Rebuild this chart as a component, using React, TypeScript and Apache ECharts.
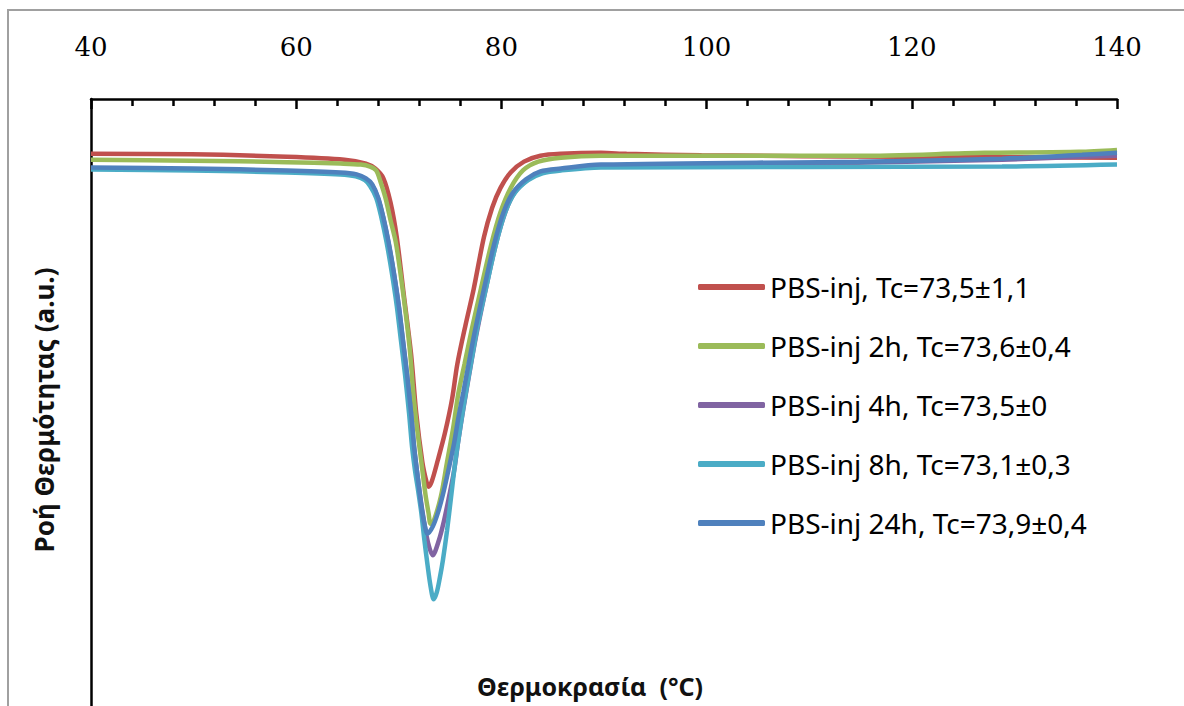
import React, { useEffect, useRef } from "react";
import * as echarts from "echarts";

// Temperature (°C) and heat-flow (a.u.) readings for each sample
const pbsInj: number[][] = [
  [40, -5.6], [49.8, -5.65], [59.1, -5.9], [64.7, -6.2], [66.8, -6.6], [67.7, -7.1], [68.5, -8.1],
  [69.2, -10.6], [69.8, -14.1], [70.5, -20.1], [71.2, -26.1], [71.7, -32.1], [72.3, -37.1],
  [72.7, -39.1], [72.9, -39.6], [73.2, -39.1], [73.8, -36.9], [74.5, -34.1], [75.2, -30.6],
  [75.7, -27.1], [76.5, -23.1], [77.3, -19.4], [78.3, -14.1], [79.1, -11.1], [79.9, -9.1],
  [80.9, -7.5], [82.2, -6.4], [83.8, -5.8], [85.8, -5.6], [89.7, -5.5], [92.2, -5.6],
  [99.5, -5.75], [119.0, -5.9], [140, -6.0],
];
const pbsInj2h: number[][] = [
  [40, -6.2], [49.8, -6.3], [59.1, -6.45], [64.3, -6.6], [66.3, -6.7], [67.2, -6.9], [67.8, -7.3],
  [68.2, -8.4], [68.7, -10.1], [69.2, -12.4], [69.7, -14.6], [70.2, -18.1], [70.7, -22.1],
  [71.1, -25.9], [71.4, -29.9], [71.8, -33.8], [72.2, -37.1], [72.6, -40.4], [72.9, -42.3],
  [73.1, -43.4], [73.4, -43.1], [74.1, -40.6], [74.7, -37.1], [75.3, -33.6], [75.8, -30.1],
  [76.4, -27.1], [77.1, -23.6], [78.0, -19.4], [79.0, -14.9], [79.9, -11.6], [80.9, -9.1],
  [82.1, -7.3], [83.6, -6.4], [85.8, -6.0], [89.7, -5.8], [114.8, -5.8], [127.1, -5.5],
  [136.3, -5.4], [140, -5.2],
];
const pbsInj4h: number[][] = [
  [40, -7.1], [49.8, -7.2], [59.1, -7.4], [64.3, -7.6], [65.9, -7.8], [66.8, -8.2], [67.4, -8.8],
  [68.0, -10.2], [68.5, -12.2], [69.0, -14.7], [69.5, -17.7], [70.0, -21.2], [70.4, -24.7],
  [70.8, -28.2], [71.2, -32.2], [71.5, -35.7], [71.9, -39.1], [72.3, -42.1], [72.7, -44.6],
  [73.0, -45.9], [73.3, -46.6], [73.9, -45.1], [74.4, -43.1], [74.9, -40.6], [75.4, -37.9],
  [75.8, -34.9], [76.3, -31.6], [76.9, -27.9], [77.5, -24.4], [78.4, -19.8], [79.4, -15.1],
  [80.3, -11.8], [81.2, -9.7], [82.5, -8.3], [83.9, -7.5], [85.8, -7.2], [89.7, -6.8],
  [114.8, -6.5], [128.8, -6.2], [136.6, -5.9], [140, -5.8],
];
const pbsInj8h: number[][] = [
  [40, -7.2], [49.8, -7.3], [59.1, -7.5], [64.3, -7.7], [65.8, -7.9], [66.7, -8.3], [67.2, -8.9],
  [67.8, -10.1], [68.3, -12.1], [68.8, -14.6], [69.3, -17.6], [69.8, -21.1], [70.2, -24.6],
  [70.6, -28.1], [71.0, -32.1], [71.3, -35.6], [71.6, -38.1], [71.9, -40.1], [72.2, -42.3],
  [72.5, -45.1], [72.8, -47.6], [73.1, -49.8], [73.4, -51.1], [73.7, -50.4], [74.0, -48.9],
  [74.3, -47.1], [74.7, -44.1], [75.1, -40.6], [75.5, -37.1], [76.1, -32.8], [76.6, -29.6],
  [77.1, -26.6], [77.7, -23.1], [78.5, -19.3], [79.5, -14.7], [80.4, -11.5], [81.3, -9.6],
  [82.6, -8.3], [84.0, -7.6], [85.8, -7.3], [89.7, -7.0], [128.8, -6.9], [140, -6.7],
];
const pbsInj24h: number[][] = [
  [40, -7.0], [49.8, -7.1], [59.1, -7.3], [64.3, -7.5], [65.9, -7.7], [66.8, -8.1], [67.4, -8.7],
  [68.0, -10.1], [68.5, -12.1], [69.0, -14.6], [69.5, -17.6], [70.0, -21.1], [70.4, -24.6],
  [70.8, -28.1], [71.2, -32.1], [71.5, -35.6], [71.9, -39.1], [72.2, -41.6], [72.5, -43.4],
  [72.8, -44.4], [73.3, -43.7], [73.8, -42.3], [74.3, -40.4], [74.9, -37.6], [75.4, -35.1],
  [75.8, -32.6], [76.3, -29.9], [76.8, -27.1], [77.4, -23.8], [78.3, -19.4], [79.3, -14.8],
  [80.2, -11.6], [81.1, -9.6], [82.4, -8.2], [83.8, -7.4], [85.8, -7.1], [89.7, -6.7],
  [114.8, -6.4], [128.8, -6.1], [136.6, -5.7], [140, -5.5],
];

const seriesNames = [
  "PBS-inj, Tc=73,5±1,1",
  "PBS-inj 2h, Tc=73,6±0,4",
  "PBS-inj 4h, Tc=73,5±0",
  "PBS-inj 8h, Tc=73,1±0,3",
  "PBS-inj 24h, Tc=73,9±0,4",
];
const seriesData = [pbsInj, pbsInj2h, pbsInj4h, pbsInj8h, pbsInj24h];
const seriesColors = ["#C0504D", "#9BBB59", "#8064A2", "#4BACC6", "#4F81BD"];

const xMin = 40;
const xMax = 140;
const xInterval = 20;
const xTitle = "Θερμοκρασία  (°C)";
const yTitle = "Ροή Θερμότητας (a.u.)";

export default function App() {
  const ref = useRef<HTMLDivElement>(null);
  useEffect(() => {
    if (!ref.current) return;
    const chart = echarts.init(ref.current, undefined, { renderer: "svg" });
    chart.setOption({
      animation: false,
      backgroundColor: "#ffffff",
      grid: { left: 91, top: 99, width: 1026, height: 620 },
      xAxis: {
        type: "value",
        position: "top",
        min: xMin,
        max: xMax,
        interval: xInterval,
        axisLine: { show: true, lineStyle: { color: "#000", width: 2.5 } },
        axisTick: { show: true, inside: true, length: 10, lineStyle: { color: "#000", width: 2.5 } },
        minorTick: { show: true, splitNumber: 5, length: 7, lineStyle: { color: "#000", width: 2.5 } },
        splitLine: { show: false },
        axisLabel: {
          margin: 39,
          fontFamily: "DejaVu Serif",
          fontSize: 26,
          color: "#000",
        },
      },
      yAxis: {
        type: "value",
        min: -62,
        max: 0,
        axisLine: { show: true, onZero: false, lineStyle: { color: "#000", width: 2.5 } },
        axisTick: { show: false },
        axisLabel: { show: false },
        splitLine: { show: false },
      },
      legend: {
        orient: "vertical",
        left: 693,
        top: 267,
        itemWidth: 67,
        itemHeight: 6,
        itemGap: 29,
        icon: "roundRect",
        data: seriesNames,
        textStyle: {
          fontFamily: "Noto Sans",
          fontSize: 28,
          lineHeight: 30,
          color: "#000",
        },
      },
      graphic: [
        {
          type: "rect",
          shape: { x: 8, y: 10, width: 1200, height: 720 },
          style: { fill: "none", stroke: "#a0a0a0", lineWidth: 2 },
          silent: true,
        },
        {
          type: "text",
          x: 590,
          y: 686,
          style: {
            text: xTitle,
            fontFamily: "Noto Sans",
            fontWeight: "bold",
            fontSize: 25,
            fill: "#111",
            align: "center",
            verticalAlign: "middle",
          },
        },
        {
          type: "text",
          x: 44,
          y: 410,
          rotation: Math.PI / 2,
          style: {
            text: yTitle,
            fontFamily: "Noto Sans",
            fontWeight: "bold",
            fontSize: 26,
            fill: "#111",
            align: "center",
            verticalAlign: "middle",
          },
        },
      ],
      series: seriesData.map((d, i) => ({
        name: seriesNames[i],
        type: "line",
        data: d,
        showSymbol: false,
        smooth: 0.3,
        lineStyle: { color: seriesColors[i], width: 4.5 },
        itemStyle: { color: seriesColors[i] },
        z: 2 + i,
      })),
    });
    return () => chart.dispose();
  }, []);
  return (
    <div
      ref={ref}
      style={{ position: "fixed", left: 0, top: 0, width: 1184, height: 706, background: "#fff" }}
    />
  );
}
